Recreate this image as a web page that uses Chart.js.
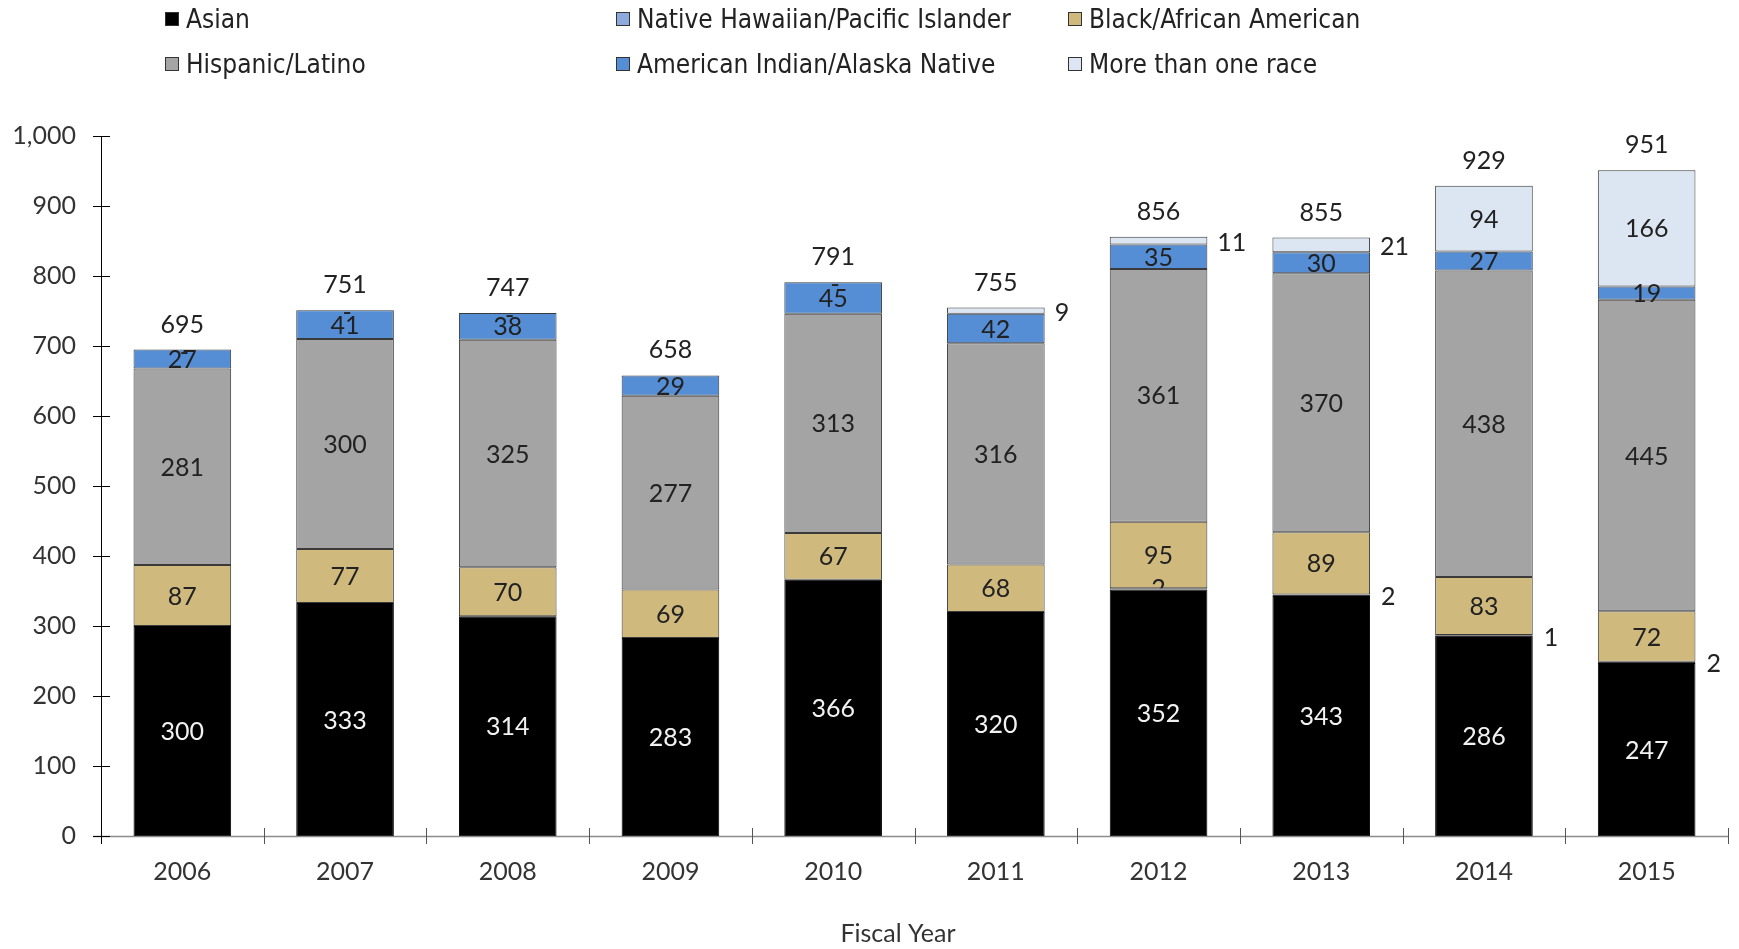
<!DOCTYPE html>
<html><head><meta charset="utf-8">
<script src="https://cdn.jsdelivr.net/npm/chart.js@4.4.1/dist/chart.umd.min.js"></script>
<style>
html,body{margin:0;padding:0;background:#fff;}
#wrap{position:relative;width:1739px;height:949px;overflow:hidden;}
#c{position:absolute;left:0;top:0;}
.lgbox{position:absolute;width:12px;height:12px;border:1px solid #333;}
.lgtxt{position:absolute;font-family:'Liberation Sans Narrow','Arial Narrow','DejaVu Sans Condensed',sans-serif;font-size:26px;color:#222;white-space:nowrap;line-height:30px;height:30px;}
</style>
</head><body>
<div id="wrap"><canvas id="c" width="1739" height="949"></canvas></div>
<script>
const years = ['2006','2007','2008','2009','2010','2011','2012','2013','2014','2015'];
const asian    = [300,333,314,283,366,320,352,343,286,247];
const nhpi     = [0,0,0,0,0,0,2,2,1,2];
const black    = [87,77,70,69,67,68,95,89,83,72];
const hispanic = [281,300,325,277,313,316,361,370,438,445];
const aian     = [27,41,38,29,45,42,35,30,27,19];
const multi    = [0,0,0,null,0,9,11,21,94,166];
const totals   = [695,751,747,658,791,755,856,855,929,951];
const seriesNames = ['Asian','Native Hawaiian/Pacific Islander','Black/African American','Hispanic/Latino','American Indian/Alaska Native','More than one race'];
const axisTitle = 'Fiscal Year';

const colors = ['#000000','#8EA9DB','#CFB97D','#A3A4A3','#558ED5','#DCE6F2'];
const seriesData = [asian,nhpi,black,hispanic,aian,multi];
const FONT = 'Lato, "DejaVu Sans", sans-serif';

const datasets = seriesData.map((d,i)=>({
  label: seriesNames[i],
  data: d,
  backgroundColor: colors[i],
  borderColor: i===0 ? '#000' : '#3a3a3a',
  borderWidth: ctx => (ctx.raw ? 1 : 0),
  borderSkipped: false,
  categoryPercentage: 1.0,
  barPercentage: 0.6
}));

// HTML legend in a 3-column grid
const colBox = [165,616,1068], colTxt = [186,637,1089], rowY = [19,64];
const wrap = document.getElementById('wrap');
seriesNames.forEach((n,i)=>{
  const c = i%3, r = Math.floor(i/3);
  const b = document.createElement('div');
  b.className='lgbox'; b.style.left=colBox[c]+'px'; b.style.top=(rowY[r]-7)+'px'; b.style.background=colors[i];
  wrap.appendChild(b);
  const t = document.createElement('div');
  t.className='lgtxt'; t.style.left=colTxt[c]+'px'; t.style.top=(rowY[r]-15)+'px'; t.textContent=n;
  wrap.appendChild(t);
});

const axesPlugin = {
  id:'axesPlugin',
  afterDatasetsDraw(chart){
    const ctx = chart.ctx, a = chart.chartArea, ys = chart.scales.y;
    ctx.save();
    // x axis line
    ctx.strokeStyle = '#8c8c8c'; ctx.lineWidth = 1.5;
    ctx.beginPath(); ctx.moveTo(93, a.bottom+0.5); ctx.lineTo(a.right, a.bottom+0.5); ctx.stroke();
    // x ticks at category boundaries
    ctx.strokeStyle = '#555'; ctx.lineWidth = 1;
    for(let k=0;k<=years.length;k++){
      const xx = Math.round(a.left + (a.right-a.left)*k/years.length)+0.5;
      ctx.beginPath(); ctx.moveTo(xx, a.bottom-8); ctx.lineTo(xx, a.bottom+8); ctx.stroke();
    }
    // y axis line and ticks
    ctx.strokeStyle = '#000';
    ctx.beginPath(); ctx.moveTo(a.left+0.5, a.top); ctx.lineTo(a.left+0.5, a.bottom+8); ctx.stroke();
    ys.ticks.forEach(t=>{
      const yy = Math.round(ys.getPixelForValue(t.value))+0.5;
      ctx.beginPath(); ctx.moveTo(a.left-8, yy); ctx.lineTo(a.left+9, yy); ctx.stroke();
    });
    // axis title
    ctx.fillStyle = '#333'; ctx.font = '25px '+FONT; ctx.textAlign='center'; ctx.textBaseline='middle';
    ctx.fillText(axisTitle, 898, 934);

    // data labels
    ctx.font = '25px '+FONT;
    chart.data.datasets.forEach((ds,i)=>{
      const meta = chart.getDatasetMeta(i);
      meta.data.forEach((bar,j)=>{
        const v = ds.data[j];
        if(v===null || v===undefined) return;
        const top = Math.min(bar.y,bar.base), bot = Math.max(bar.y,bar.base);
        const cy = (top+bot)/2;
        const right = bar.x + bar.width/2;
        ctx.fillStyle = i===0 ? '#f2f2f2' : '#222';
        if(i===1){
          if(v===0) return;
          if(j===6){
            ctx.save();
            ctx.beginPath(); ctx.rect(bar.x-bar.width/2, 0, bar.width, top); ctx.clip();
            ctx.textAlign='center'; ctx.fillText(String(v), bar.x, cy);
            ctx.restore();
          } else {
            ctx.textAlign='left'; ctx.fillText(String(v), right+11, cy+2);
          }
          return;
        }
        if(i===5){
          if(v===0){ ctx.textAlign='center'; ctx.fillText('-', bar.x+2, top+3); return; }
          if(v<50){ ctx.textAlign='left'; ctx.fillText(String(v), right+10, cy+2); return; }
        }
        ctx.textAlign='center';
        ctx.fillText(String(v), bar.x, cy+1);
      });
    });
    // totals
    const first = chart.getDatasetMeta(0).data;
    totals.forEach((t,j)=>{
      const xx = first[j].x;
      const yy = ys.getPixelForValue(t);
      ctx.textAlign='center'; ctx.fillStyle='#222';
      ctx.fillText(String(t), xx, yy-25);
    });
    ctx.restore();
  }
};

new Chart(document.getElementById('c'), {
  type:'bar',
  data:{labels:years, datasets},
  plugins:[axesPlugin],
  options:{
    responsive:false, animation:false, devicePixelRatio:1,
    layout:{padding:{left:0,right:11,top:136,bottom:0}},
    plugins:{legend:{display:false}, tooltip:{enabled:false}},
    scales:{
      x:{
        stacked:true,
        grid:{display:false, drawTicks:false},
        border:{display:false},
        ticks:{color:'#333', font:{family:FONT, size:25}, padding:21, maxRotation:0},
        afterFit(s){ s.height = 113; }
      },
      y:{
        stacked:true, min:0, max:1000,
        grid:{display:false, drawTicks:false},
        border:{display:false},
        ticks:{stepSize:100, color:'#333', font:{family:FONT, size:25}, padding:25,
          callback:v=>v.toLocaleString('en-US')},
        afterFit(s){ s.width = 101; }
      }
    }
  }
});
</script>
</body></html>
